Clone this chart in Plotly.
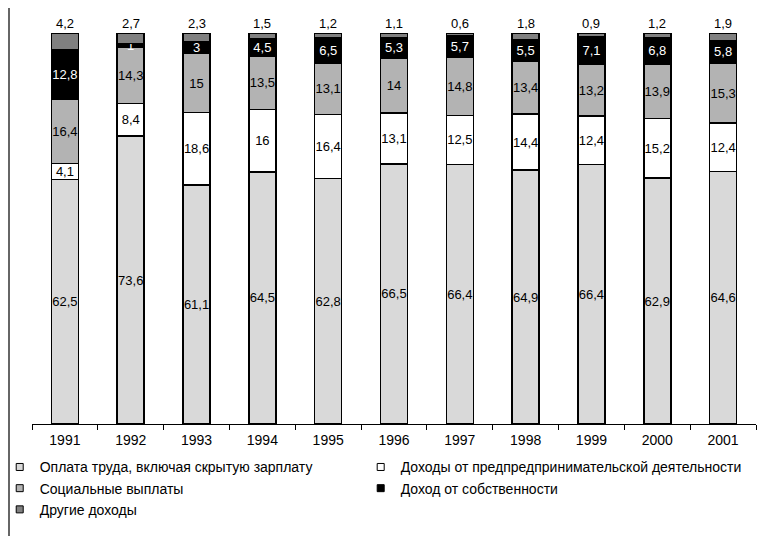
import plotly.graph_objects as go

years = ["1991", "1992", "1993", "1994", "1995", "1996", "1997", "1998", "1999", "2000", "2001"]
wages = [62.5, 73.6, 61.1, 64.5, 62.8, 66.5, 66.4, 64.9, 66.4, 62.9, 64.6]
business = [4.1, 8.4, 18.6, 16, 16.4, 13.1, 12.5, 14.4, 12.4, 15.2, 12.4]
social = [16.4, 14.3, 15, 13.5, 13.1, 14, 14.8, 13.4, 13.2, 13.9, 15.3]
property_inc = [12.8, 1, 3, 4.5, 6.5, 5.3, 5.7, 5.5, 7.1, 6.8, 5.8]
other = [4.2, 2.7, 2.3, 1.5, 1.2, 1.1, 0.6, 1.8, 0.9, 1.2, 1.9]

names = [
    "Оплата труда, включая скрытую зарплату",
    "Доходы от предпредпринимательской деятельности",
    "Социальные выплаты",
    "Доход от собственности",
    "Другие доходы",
]
series = [wages, business, social, property_inc, other]
colors = ["#d9d9d9", "#ffffff", "#b3b3b3", "#000000", "#808080"]
text_colors = ["#000000", "#000000", "#000000", "#ffffff", "#000000"]
inside_text = [True, True, True, True, False]
legend_ids = ["legend", "legend2", "legend", "legend2", "legend"]

FONT = "Liberation Sans, Arial, sans-serif"


def fmt(v):
    return f"{v:g}".replace(".", ",")


fig = go.Figure()
for name, vals, col, tcol, show_in in zip(names, series, colors, text_colors, inside_text):
    fig.add_trace(go.Bar(
        x=years, y=vals, name=name,
        marker=dict(color=col, line=dict(color="#000000", width=1.5)),
        text=[fmt(v) for v in vals] if show_in else None,
        textposition="inside" if show_in else "none",
        insidetextanchor="middle",
        textangle=0,
        constraintext="none",
        textfont=dict(family=FONT, size=13, color=tcol),
        showlegend=False,
        hoverinfo="skip",
    ))

# legend entries with small square glyphs (two columns via two legends)
for name, col, lg in zip(names, colors, legend_ids):
    fig.add_trace(go.Scatter(
        x=[years[0]], y=[None], mode="markers", name=name, legend=lg,
        marker=dict(symbol="square", size=7, color=col, line=dict(color="#000000", width=1)),
        showlegend=True, hoverinfo="skip",
    ))

# labels above the stacks for the top series (x as category index)
totals = [sum(v) for v in zip(*series)]
annotations = [
    dict(x=i, y=tot, xref="x", yref="y", text=fmt(val), showarrow=False,
         yanchor="bottom", yshift=0, font=dict(family=FONT, size=13, color="#000000"))
    for i, (tot, val) in enumerate(zip(totals, other))
]

legend_common = dict(
    orientation="v",
    xanchor="left",
    yanchor="top",
    itemwidth=30,
    traceorder="normal",
    font=dict(family=FONT, size=14, color="#000000"),
    bgcolor="rgba(0,0,0,0)",
    tracegroupgap=0,
)

L, R, T, B = 24, 31, 25, 120
PW, PH = 779 - L - R, 536 - T - B

fig.update_layout(
    width=779, height=536,
    barmode="stack",
    bargap=0.59,
    paper_bgcolor="white",
    plot_bgcolor="white",
    margin=dict(l=L, r=R, t=T, b=B, autoexpand=False),
    font=dict(family=FONT, size=14, color="#000000"),
    showlegend=True,
    legend=dict(x=-0.0446, y=-0.070, **legend_common),
    legend2=dict(x=0.454, y=-0.070, **legend_common),
    xaxis=dict(
        type="category",
        categoryorder="array", categoryarray=years,
        range=[-0.5, len(years) - 0.5],
        showline=True, linecolor="#000000", linewidth=1,
        ticks="outside", tickson="boundaries", ticklen=5, tickcolor="#000000",
        ticklabelstandoff=3,
        tickfont=dict(family=FONT, size=14, color="#000000"),
        showgrid=False, zeroline=False,
    ),
    yaxis=dict(range=[0, 100], visible=False),
    annotations=annotations,
    shapes=[dict(
        type="line", xref="paper", yref="paper",
        x0=(1 - L) / PW, x1=(1 - L) / PW, y0=-B / PH, y1=1 + T / PH,
        line=dict(color="#333333", width=1.5),
    )],
)

fig.write_html("out.html")
